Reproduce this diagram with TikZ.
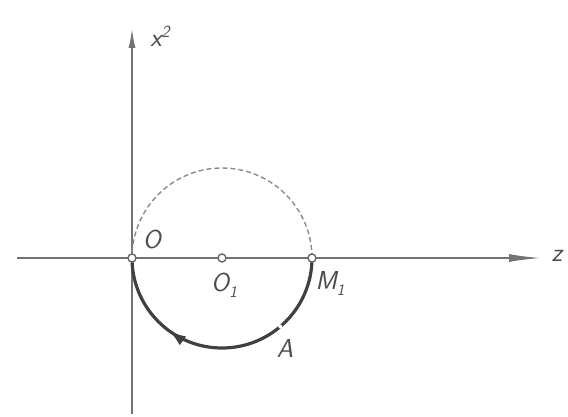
\documentclass[tikz,border=0pt]{standalone}
\usetikzlibrary{arrows.meta,decorations.markings,calc}
\begin{document}
\begin{tikzpicture}[x=1pt,y=1pt,
  axisline/.style={draw=black!55,line width=1.8pt},
  pt/.style={circle,draw=black!60,fill=white,line width=1.4pt,inner sep=0pt,minimum size=8pt},
  lbl/.style={text=black!70,font=\fontsize{26}{26}\selectfont\sffamily\slshape,inner sep=0pt},
  dashcircle/.style={draw=black!45,line width=1.4pt,dash pattern=on 5pt off 3pt},
  patharc/.style={draw=black!75,line width=3.2pt},
]
\useasboundingbox (0,0) rectangle (568,416);
% axes
\coordinate (xl) at (17,158);
\coordinate (xr) at (541,158);
\coordinate (yb) at (132,2);
\coordinate (yt) at (132,388);
\draw[axisline,-{Latex[length=32pt,width=8pt]}] (xl) -- (xr);
\draw[axisline,-{Latex[length=20pt,width=7pt]}] (yb) -- (yt);
% circle
\coordinate (C) at (222,158);
\draw[dashcircle] (C) circle[radius=90pt];
% solid lower arc from M1 to O with arrow
\draw[patharc,postaction={decorate},
  decoration={markings,mark=at position 0.70 with {\arrow{Latex[length=17pt,width=11pt]}}}]
  (312,158) arc[start angle=0,end angle=-180,radius=90pt];
% points
\node[pt] (O) at (132,158) {};
\node[pt] (O1) at (222,158) {};
\node[pt] (M1) at (312,158) {};
\node[circle,fill=white,inner sep=0pt,minimum size=4pt] (Apt) at ($(C)+(-49.6:90pt)$) {};
% labels
\node[lbl] (lO) at (152,177) {O};
\node[lbl] (lO1) at (224,131) {O\raisebox{-6pt}{\fontsize{16}{16}\selectfont 1}};
\node[lbl] (lM1) at (330,133) {M\raisebox{-6pt}{\fontsize{16}{16}\selectfont 1}};
\node[lbl] (lA) at (285,68) {A};
\node[lbl] (lx) at (160,380) {x\raisebox{9pt}{\fontsize{17}{17}\selectfont 2}};
\node[lbl] (lz) at (557,160) {z};
\end{tikzpicture}
\end{document}
